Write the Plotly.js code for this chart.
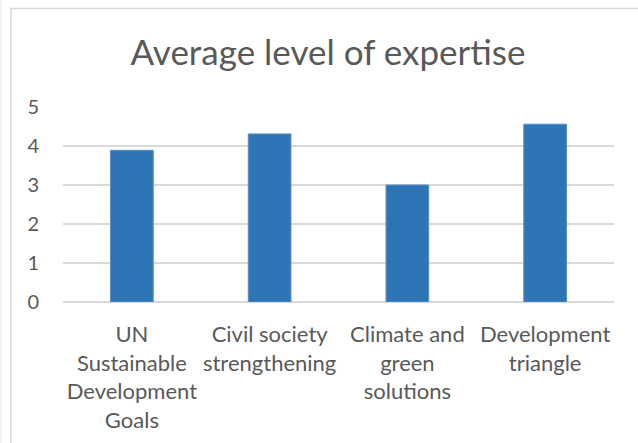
<!DOCTYPE html>
<html>
<head>
<meta charset="utf-8">
<script src="https://cdn.plot.ly/plotly-3.0.1.min.js"></script>
<style>html,body{margin:0;padding:0;background:#fff;}#chart{width:638px;height:443px;}</style>
</head>
<body>
<div id="chart"></div>
<script>
const categories = [
  "UN<br>Sustainable<br>Development<br>Goals",
  "Civil society<br>strengthening",
  "Climate and<br>green<br>solutions",
  "Development<br>triangle"
];
const values = [3.89, 4.31, 3.0, 4.56];
const yTicks = [0, 1, 2, 3, 4, 5];

const fontFam = "Lato, 'Open Sans', sans-serif";
const textColor = "#595959";

const data = [{
  type: "bar",
  x: categories,
  y: values,
  width: 0.31,
  marker: {color: "#2e75b6", line: {color: "#5b8fc9", width: 1}},
  hoverinfo: "none"
}];

const plotL = 62.6, plotR = 614, plotT = 107, plotB = 302;
const W = 638, H = 443;
const pw = plotR - plotL, ph = plotB - plotT;

const layout = {
  width: W, height: H,
  margin: {l: plotL, r: W - plotR, t: plotT, b: H - plotB, pad: 0},
  paper_bgcolor: "#ffffff",
  plot_bgcolor: "#ffffff",
  showlegend: false,
  font: {family: fontFam, color: textColor, size: 20},
  title: {
    text: "Average level of expertise",
    font: {family: fontFam, size: 35, color: textColor},
    x: 328 / W, xanchor: "center",
    y: 1 - 53 / H, yanchor: "middle"
  },
  xaxis: {
    type: "category",
    showgrid: false,
    showline: false,
    zeroline: false,
    ticks: "",
    tickfont: {family: fontFam, size: 22, color: textColor},
    ticklabelstandoff: 17,
    fixedrange: true
  },
  yaxis: {
    range: [0, 5],
    tickvals: yTicks,
    ticktext: yTicks.map(String),
    showgrid: true,
    gridcolor: "#d9d9d9",
    gridwidth: 1.5,
    zeroline: true,
    zerolinecolor: "#d9d9d9",
    zerolinewidth: 1.5,
    showline: false,
    ticks: "",
    tickfont: {family: fontFam, size: 20, color: textColor},
    ticklabelstandoff: 23,
    fixedrange: true
  },
  shapes: [{
    type: "rect", xref: "paper", yref: "paper",
    x0: (10.5 - plotL) / pw, x1: (W + 20 - plotL) / pw,
    y0: (plotB - (H + 20)) / ph, y1: (plotB - 8.5) / ph,
    line: {color: "#d9d9d9", width: 1.5}, fillcolor: "rgba(0,0,0,0)", layer: "below"
  }, {
    type: "line", xref: "paper", yref: "paper",
    x0: (0.5 - plotL) / pw, x1: (0.5 - plotL) / pw,
    y0: (plotB - H) / ph, y1: (plotB - 0) / ph,
    line: {color: "#e6e6e6", width: 1}
  }]
};

Plotly.newPlot("chart", data, layout, {displayModeBar: false, staticPlot: true});
</script>
</body>
</html>
